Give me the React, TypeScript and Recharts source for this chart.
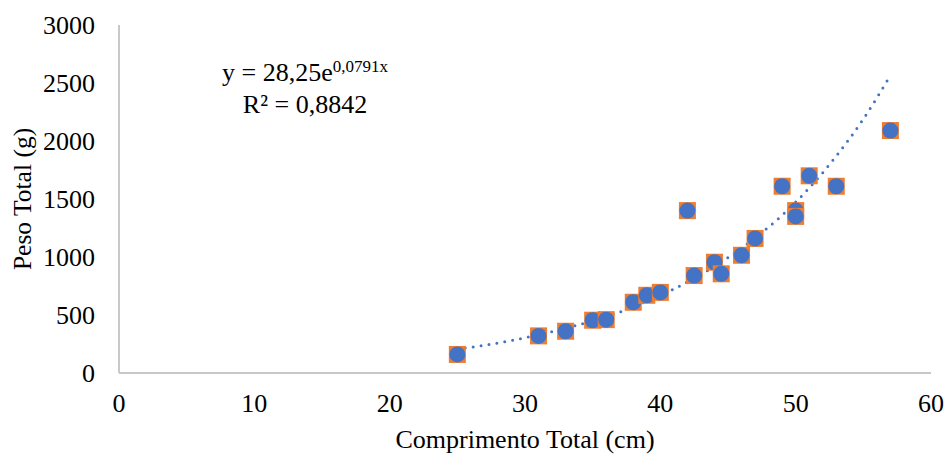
import React from 'react';
import { ScatterChart, Scatter, XAxis, YAxis, Label } from 'recharts';

// comprimento total (cm) x peso total (g)
const comprimento = [25, 31, 33, 35, 36, 38, 39, 40, 42, 42.5, 44, 44.5, 46, 47, 49, 50, 50, 51, 53, 57];
const peso = [160, 320, 360, 455, 460, 610, 670, 695, 1400, 840, 955, 855, 1015, 1160, 1610, 1400, 1350, 1700, 1610, 2090];

// linha de tendencia (pontilhada)
const trendX = [25, 27, 29, 31, 33, 35, 37, 39, 41, 43, 45, 47, 49, 51, 53, 55, 57];
const trendY = [205, 240, 280, 330, 385, 450, 525, 620, 725, 850, 995, 1165, 1360, 1595, 1870, 2190, 2565];

const xTicks = [0, 10, 20, 30, 40, 50, 60];
const yTicks = [0, 500, 1000, 1500, 2000, 2500, 3000];

const points = comprimento.map((x, i) => ({ x, y: peso[i] }));
const trend = trendX.map((x, i) => ({ x, y: trendY[i] }));

const FONT = '"Liberation Serif", "Times New Roman", serif';
const tickStyle = { fontSize: 26, fill: '#000', fontFamily: FONT };

const Marker = (props: any) => {
  const { cx, cy } = props;
  if (cx == null || cy == null) return null;
  return (
    <g>
      <rect x={cx - 8.5} y={cy - 8.5} width={17} height={17} fill="#ED7D31" />
      <circle cx={cx} cy={cy} r={8} fill="#4472C4" />
    </g>
  );
};

const YLabel = (props: any) => {
  const vb = props.viewBox || {};
  const x = 22;
  const y = (vb.y ?? 25) + (vb.height ?? 348) / 2;
  return (
    <text
      x={x}
      y={y}
      transform={`rotate(-90 ${x} ${y})`}
      textAnchor="middle"
      dominantBaseline="central"
      fontSize={25.5}
      fontFamily={FONT}
      fill="#000"
    >
      Peso Total (g)
    </text>
  );
};

export default function App() {
  return (
    <div style={{ position: 'absolute', left: 0, top: 0, width: 947, height: 456, background: '#fff' }}>
      <ScatterChart width={947} height={456} margin={{ top: 25, right: 16, bottom: 0, left: 0 }}>
        <XAxis
          type="number"
          dataKey="x"
          domain={[0, 60]}
          ticks={xTicks}
          height={83}
          tickLine={false}
          tickSize={0}
          tickMargin={21}
          axisLine={{ stroke: '#C8C8C8', strokeWidth: 2 }}
          tick={tickStyle}
        >
          <Label
            value="Comprimento Total (cm)"
            position="insideBottom"
            offset={8}
            style={{ fontSize: 26, fill: '#000', fontFamily: FONT }}
          />
        </XAxis>
        <YAxis
          type="number"
          dataKey="y"
          domain={[0, 3000]}
          ticks={yTicks}
          width={119}
          tickLine={false}
          tickSize={0}
          tickMargin={24}
          axisLine={{ stroke: '#C8C8C8', strokeWidth: 2 }}
          tick={tickStyle}
        >
          <Label content={<YLabel />} />
        </YAxis>
        <Scatter
          data={trend}
          line={{ stroke: '#4472C4', strokeWidth: 3, strokeDasharray: '0 8', strokeLinecap: 'round' }}
          lineJointType="monotoneX"
          shape={() => <g />}
          isAnimationActive={false}
        />
        <Scatter data={points} shape={<Marker />} isAnimationActive={false} />
      </ScatterChart>
      <div
        style={{
          position: 'absolute',
          left: 205,
          top: 58,
          width: 200,
          textAlign: 'center',
          fontFamily: FONT,
          fontSize: 26,
          lineHeight: '29px',
          color: '#000',
        }}
      >
        <div>
          y = 28,25e<sup style={{ fontSize: 17, verticalAlign: 'baseline', position: 'relative', top: -9 }}>0,0791x</sup>
        </div>
        <div>R² = 0,8842</div>
      </div>
    </div>
  );
}
